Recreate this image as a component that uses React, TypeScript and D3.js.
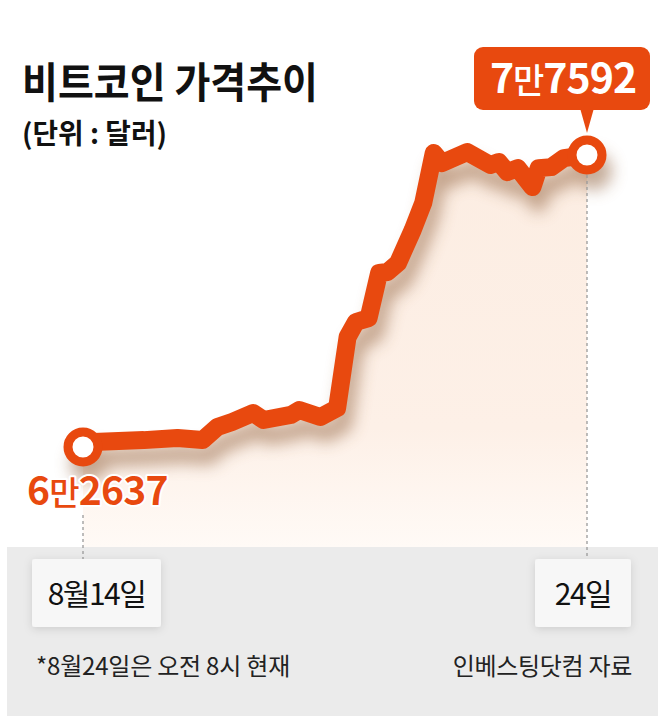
import * as d3 from 'd3';

// --- Data ---
// hours since 8/14 00:00, last point = 8/24 08:00 shown as the right edge
const hours = [0, 5, 29, 45, 57, 64, 71, 81, 86, 99, 103, 113, 121, 126, 130, 136, 141, 145, 150, 157, 162, 167, 171, 183, 194, 198, 202, 207, 214, 217, 223, 229, 240];
const prices = [62637, 62890, 62990, 63100, 62995, 63660, 63920, 64380, 64020, 64280, 64530, 64170, 64630, 68270, 69040, 69240, 71550, 71600, 72060, 73750, 75130, 77690, 77180, 77740, 77080, 77230, 76720, 76920, 75950, 76920, 76970, 77430, 77592];

const title = '비트코인 가격추이';
const unit = '(단위 : 달러)';
const startLabel = ['6', '만', '2637'];
const endLabel = ['7', '만', '7592'];
const dateLabels = ['8월14일', '24일'];
const note = '*8월24일은 오전 8시 현재';
const source = '인베스팅닷컴 자료';

const W = 658;
const H = 716;
const ORANGE = '#E8490F';
const FONT = '"Noto Sans CJK KR", "Noto Sans", sans-serif';
const panelTop = 547;

export default function App() {
    const points = hours.map((h, i) => ({ h, v: prices[i] }));

    const x = d3.scaleLinear().domain([0, 240]).range([83, 587]);
    const y = d3.scaleLinear().domain([62637, 77592]).range([447, 155]);

    const line = d3.line<{ h: number; v: number }>()
        .x(d => x(d.h))
        .y(d => y(d.v));

    const area = d3.area<{ h: number; v: number }>()
        .x(d => x(d.h))
        .y0(panelTop)
        .y1(d => y(d.v));

    const first = points[0];
    const last = points[points.length - 1];
    const x0 = x(first.h), y0 = y(first.v);
    const x1 = x(last.h), y1 = y(last.v);
    const ends = [[x0, y0], [x1, y1]];

    return (
        <>
            <style>{`body{margin:0}`}</style>
            <svg width={W} height={H} style={{ display: 'block', fontFamily: FONT }}>
                <defs>
                    <linearGradient id="areaFill" gradientUnits="userSpaceOnUse" x1="0" y1="150" x2="0" y2={panelTop}>
                        <stop offset="0" stopColor="#FCEDE2" />
                        <stop offset="0.7" stopColor="#FDF0E7" />
                        <stop offset="1" stopColor="#FFFAF6" />
                    </linearGradient>
                    <filter id="lineShadow" x="-20%" y="-20%" width="140%" height="140%">
                        <feGaussianBlur stdDeviation="8" />
                    </filter>
                    <filter id="boxShadow" x="-30%" y="-30%" width="160%" height="160%">
                        <feDropShadow dx="0" dy="2" stdDeviation="4" floodColor="#000" floodOpacity="0.13" />
                    </filter>
                </defs>

                <rect width={W} height={H} fill="#fff" />

                {/* area under the line */}
                <path d={area(points) ?? ''} fill="url(#areaFill)" />

                {/* soft shadow under the line and markers */}
                <g transform="translate(6,16)" filter="url(#lineShadow)" opacity={0.5}>
                    <path
                        d={line(points) ?? ''}
                        fill="none"
                        stroke="#8B5A36"
                        strokeWidth={18}
                        strokeLinejoin="round"
                    />
                    {ends.map(([cx, cy], i) => (
                        <circle key={i} cx={cx} cy={cy} r={19} fill="#8B5A36" />
                    ))}
                </g>

                {/* bottom panel */}
                <rect x={7} y={panelTop} width={W - 7} height={H - panelTop} fill="#EBEBEB" />

                {/* dashed guides */}
                <line x1={x0} x2={x0} y1={515} y2={559} stroke="#9a9a9a" strokeWidth={1.3} strokeDasharray="3,3" />
                <line x1={x1} x2={x1} y1={y1 + 20} y2={559} stroke="#9a9a9a" strokeWidth={1.3} strokeDasharray="3,3" />

                {/* price line */}
                <path
                    d={line(points) ?? ''}
                    fill="none"
                    stroke={ORANGE}
                    strokeWidth={18}
                    strokeLinejoin="round"
                    strokeLinecap="round"
                />

                {/* end markers */}
                {ends.map(([cx, cy], i) => (
                    <circle key={i} cx={cx} cy={cy} r={15} fill="#fff" stroke={ORANGE} strokeWidth={9} />
                ))}

                {/* start value */}
                <text
                    x={x0 - 56}
                    y={y0 + 58}
                    fill={ORANGE}
                    stroke="#fff"
                    strokeWidth={4}
                    paintOrder="stroke"
                    strokeLinejoin="round"
                    fontWeight={700}
                    fontSize={39}
                    letterSpacing={-0.8}
                >
                    <tspan>{startLabel[0]}</tspan>
                    <tspan fontSize={33} fontWeight={500}>{startLabel[1]}</tspan>
                    <tspan>{startLabel[2]}</tspan>
                </text>

                {/* end value callout */}
                <g>
                    <path d={`M${x1 - 7},${108} L${x1},${y1 - 22} L${x1 + 7},${108} Z`} fill={ORANGE} />
                    <rect x={x1 - 113} y={47} width={176} height={63} rx={9} fill={ORANGE} />
                    <text x={x1 - 24} y={93} textAnchor="middle" fill="#fff" fontWeight={700} fontSize={41} letterSpacing={-1}>
                        <tspan>{endLabel[0]}</tspan>
                        <tspan fontSize={34} fontWeight={500}>{endLabel[1]}</tspan>
                        <tspan>{endLabel[2]}</tspan>
                    </text>
                </g>

                {/* title */}
                <text x={22} y={98} fill="#111" fontWeight={700} fontSize={42} textLength={296} lengthAdjust="spacingAndGlyphs">
                    {title}
                </text>
                <text x={22} y={144} fill="#111" fontWeight={700} fontSize={28} textLength={145} lengthAdjust="spacingAndGlyphs">
                    {unit}
                </text>

                {/* date boxes */}
                <rect x={32} y={559} width={129} height={68} rx={3} fill="#F7F7F7" filter="url(#boxShadow)" />
                <text x={96.5} y={605} textAnchor="middle" fill="#111" fontSize={30} letterSpacing={-1.5}>
                    {dateLabels[0]}
                </text>
                <rect x={535} y={559} width={96} height={68} rx={3} fill="#F7F7F7" filter="url(#boxShadow)" />
                <text x={583} y={605} textAnchor="middle" fill="#111" fontSize={30} letterSpacing={-1.5}>
                    {dateLabels[1]}
                </text>

                {/* footnotes */}
                <text x={36} y={675} fill="#222" fontSize={24} letterSpacing={-0.2}>
                    {note}
                </text>
                <text x={632} y={675} textAnchor="end" fill="#222" fontSize={24} letterSpacing={-0.3}>
                    {source}
                </text>
            </svg>
        </>
    );
}
